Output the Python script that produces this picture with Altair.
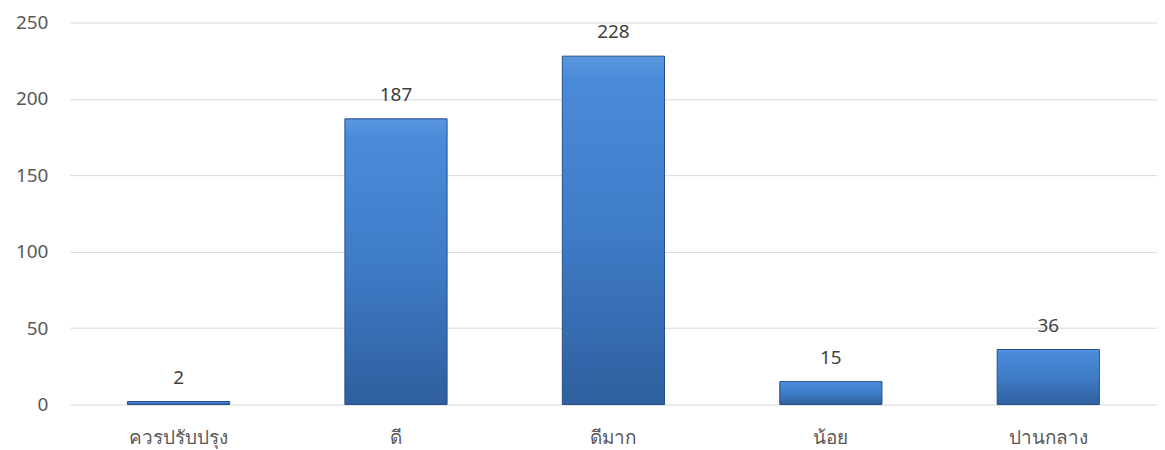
import altair as alt
import pandas as pd

categories = ["ควรปรับปรุง", "ดี", "ดีมาก", "น้อย", "ปานกลาง"]
values = [2, 187, 228, 15, 36]
y_ticks = [0, 50, 100, 150, 200, 250]

df = pd.DataFrame({"category": categories, "value": values})

x_enc = alt.X("category:N", sort=categories, title=None,
              scale=alt.Scale(paddingInner=0.53, paddingOuter=0.265),
              axis=alt.Axis(labelAngle=0, labelFontSize=19, labelColor="#595959",
                            labelPadding=24, ticks=False, domain=False,
                            labelFont="Noto Sans"))
y_enc = alt.Y("value:Q", title=None,
              scale=alt.Scale(domain=[0, 250], nice=False),
              axis=alt.Axis(values=y_ticks, labelFontSize=19, labelColor="#595959",
                            labelPadding=22, ticks=False, domain=False,
                            grid=True, gridColor="#d9d9d9", gridWidth=1,
                            labelFont="Noto Sans"))

grad = alt.Gradient(
    gradient="linear",
    stops=[alt.GradientStop(color="#5b98e0", offset=0),
           alt.GradientStop(color="#4a8bd9", offset=0.06),
           alt.GradientStop(color="#3f7cc8", offset=0.5),
           alt.GradientStop(color="#2f5f9e", offset=1)],
    x1=0, x2=0, y1=0, y2=1,
)

bars = alt.Chart(df).mark_bar(color=grad, stroke="#264f86", strokeWidth=1).encode(
    x=x_enc, y=y_enc
)

labels = alt.Chart(df).mark_text(baseline="bottom", dy=-14, fontSize=19,
                                 color="#404040", font="Noto Sans").encode(
    x=alt.X("category:N", sort=categories),
    y="value:Q",
    text="value:Q",
)

chart = (bars + labels).properties(
    width=1090, height=383,
    autosize=alt.AutoSizeParams(type="none"),
    padding={"left": 62, "top": 14, "right": 0, "bottom": 45},
).configure_view(stroke=None)

chart.save("out.html", embed_options={"renderer": "svg", "actions": False})
